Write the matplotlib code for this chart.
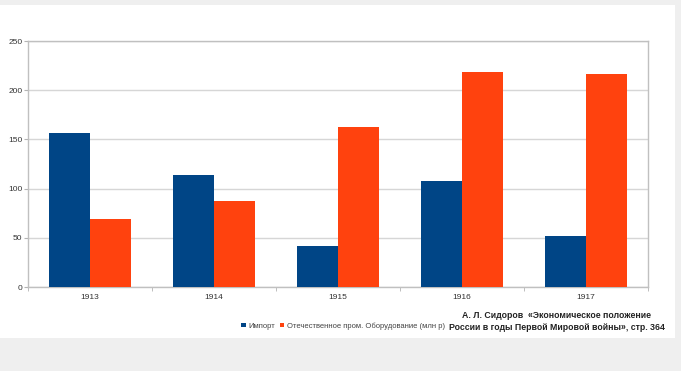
import matplotlib.pyplot as plt
import numpy as np
from matplotlib.patches import Rectangle

years = ["1913", "1914", "1915", "1916", "1917"]
import_vals = [156, 114, 42, 108, 52]
domestic_vals = [69, 87, 163, 218, 216]
series_names = ["Импорт", "Отечественное пром. Оборудование (млн р)"]
source_lines = ["А. Л. Сидоров  «Экономическое положение",
                "России в годы Первой Мировой войны», стр. 364"]

blue = "#004586"
orange = "#ff420e"
grid_c = "#d6d6d6"

plt.rcParams["font.family"] = ["Liberation Sans", "DejaVu Sans"]

fig = plt.figure(figsize=(6.81, 3.71), dpi=100, facecolor="#efefef")
# white slide area behind the chart
bg = Rectangle((0, 33 / 371), 675 / 681, 333 / 371, transform=fig.transFigure,
               facecolor="white", edgecolor="none", zorder=-10)
fig.add_artist(bg)

ax = fig.add_axes([28 / 681, 84 / 371, 620 / 681, 246 / 371])
ax.set_facecolor("white")

x = np.arange(len(years))
w = 0.33
ax.bar(x - w / 2, import_vals, w, color=blue, label=series_names[0], zorder=3)
ax.bar(x + w / 2, domestic_vals, w, color=orange, label=series_names[1], zorder=3)

ax.set_xlim(-0.5, len(years) - 0.5)
ax.set_ylim(0, 250)
ax.set_yticks(range(0, 251, 50))
ax.grid(axis="y", color=grid_c, lw=1, zorder=0)

ax.set_xticks(x)
ax.set_xticklabels(years)
ax.set_xticks(np.arange(-0.5, len(years), 1), minor=True)
ax.tick_params(axis="x", which="major", length=0, pad=5, labelsize=6, labelcolor="#333333")
ax.tick_params(axis="x", which="minor", length=3, color="#b3b3b3", direction="out")
ax.tick_params(axis="y", length=3, color="#b3b3b3", pad=1, labelsize=6, labelcolor="#333333")

for s in ax.spines.values():
    s.set_color("#c0c0c0")
    s.set_linewidth(1)

fig.legend(loc="center", bbox_to_anchor=(343 / 681, 1 - 326 / 371), ncol=2,
           frameon=False, fontsize=5.5, handlelength=0.6, handleheight=0.6,
           handletextpad=0.3, columnspacing=0.6, labelcolor="#444444")

fig.text(557 / 681, 1 - 316 / 371, source_lines[0], ha="center", va="center",
         fontsize=6.3, fontweight="bold", color="#222222")
fig.text(557 / 681, 1 - 327.5 / 371, source_lines[1], ha="center", va="center",
         fontsize=6.3, fontweight="bold", color="#222222")

fig.savefig("out.png", dpi=100, facecolor=fig.get_facecolor())
